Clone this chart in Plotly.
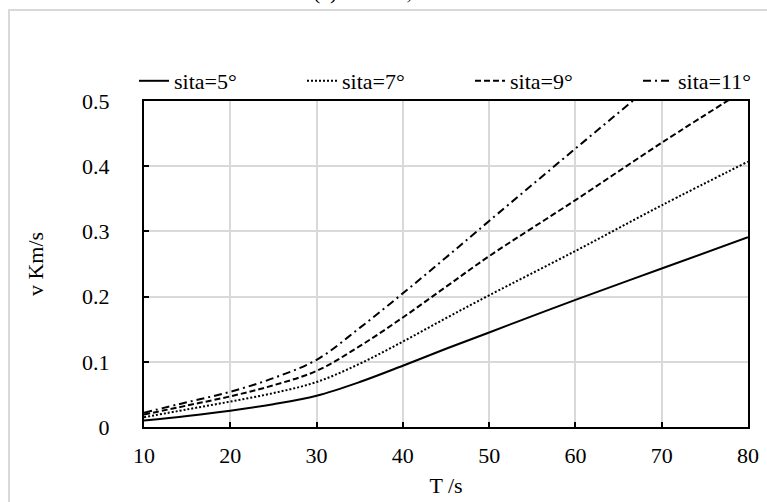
import plotly.graph_objects as go

T = [10, 15, 20, 25, 30, 35, 40, 45, 50, 60, 70, 80]
sita5 = [0.010, 0.017, 0.025, 0.035, 0.048, 0.069, 0.094, 0.120, 0.145, 0.195, 0.243, 0.291]
sita7 = [0.015, 0.027, 0.039, 0.052, 0.069, 0.097, 0.131, 0.167, 0.202, 0.270, 0.340, 0.407]
sita9 = [0.019, 0.033, 0.047, 0.064, 0.086, 0.124, 0.168, 0.215, 0.262, 0.348, 0.436, 0.520]
sita11 = [0.022, 0.038, 0.054, 0.075, 0.103, 0.152, 0.205, 0.260, 0.316, 0.427, 0.537, 0.647]

names = ["sita=5°", "sita=7°", "sita=9°", "sita=11°"]
series = [sita5, sita7, sita9, sita11]
dashes = ["solid", "2px,2px", "6px,3px", "8px,4px,2px,4px"]

FONT = "Liberation Serif"
FS = 22
fig = go.Figure()
for n, s, d in zip(names, series, dashes):
    fig.add_trace(go.Scatter(x=T, y=s, mode="lines", name=n,
                             line=dict(color="black", width=2, dash=d, shape="spline")))

L, R, TOP, B = 144, 19, 101, 75
W, H = 767, 502
pw, ph = W - L - R, H - TOP - B

def px(xp):
    return (xp - L) / pw

def py(yp):
    return (H - B - yp) / ph

fig.update_layout(
    width=W, height=H,
    margin=dict(l=L, r=R, t=TOP, b=B, pad=0, autoexpand=False),
    paper_bgcolor="white", plot_bgcolor="white",
    font=dict(family=FONT, size=FS, color="black"),
    showlegend=True,
    legend=dict(orientation="h", x=px(134), xanchor="left", y=py(60), yanchor="top",
                font=dict(size=FS, family=FONT), bgcolor="rgba(0,0,0,0)",
                itemwidth=30, entrywidth=123, tracegroupgap=0),
    xaxis=dict(range=[10, 80], dtick=10, tick0=10, showgrid=True, gridcolor="#d9d9d9", gridwidth=1.5,
               showline=True, linecolor="black", linewidth=2, mirror=True, automargin=False,
               ticks="inside", ticklen=5, tickwidth=2, tickcolor="black",
               zeroline=False, title=dict(text="T /s", font=dict(size=FS, family=FONT), standoff=10),
               tickfont=dict(size=FS, family=FONT), ticklabelstandoff=8),
    yaxis=dict(range=[0, 0.5], dtick=0.1, showgrid=True, gridcolor="#d9d9d9", gridwidth=1.5,
               showline=True, linecolor="black", linewidth=2, mirror=True, automargin=False,
               ticks="inside", ticklen=5, tickwidth=2, tickcolor="black",
               zeroline=False, title=dict(text="v Km/s", font=dict(size=FS, family=FONT), standoff=32),
               tickfont=dict(size=FS, family=FONT), ticklabelstandoff=28),
    shapes=[
        dict(type="rect", xref="paper", yref="paper", x0=px(9), x1=px(800), y0=py(520), y1=py(10),
             line=dict(color="#d9d9d9", width=2), fillcolor="rgba(0,0,0,0)", layer="below"),
    ],
    annotations=[
        dict(text="(a) 220r/m,50tons", xref="paper", yref="paper", x=px(392), y=py(6),
             xanchor="center", yanchor="bottom", showarrow=False, font=dict(size=FS, family=FONT)),
    ],
)

fig.write_html("out.html")
